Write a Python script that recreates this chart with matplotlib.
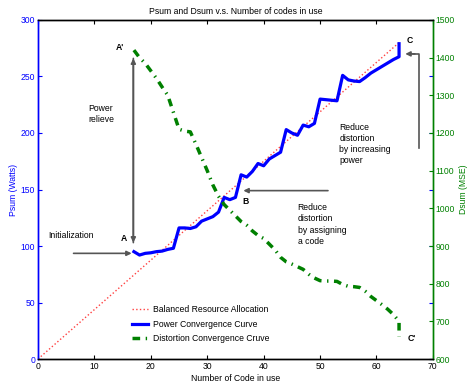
import matplotlib.pyplot as plt

plt.rcParams['font.family'] = ['Liberation Sans', 'DejaVu Sans']

# codes in use (x) and the two convergence traces
codes = list(range(17, 65)) + [64]
psum = [95, 92, 93.5, 94, 95, 95.5, 97, 98, 116, 116, 115.5, 117, 122, 124,
        126, 130, 143, 141, 143, 163, 161, 166, 173, 171, 177, 180, 183, 203,
        200, 198, 207, 205.5, 208.5, 230, 229.5, 229, 228.5, 251, 247, 246,
        245.5, 249, 253, 256, 259, 262, 265, 267.5, 279]
dsum = [1420, 1400, 1385, 1365, 1345, 1322, 1300, 1255, 1210, 1205, 1203,
        1170, 1135, 1100, 1062, 1032, 1010, 995, 980, 965, 955, 940, 928, 920,
        905, 890, 870, 858, 852, 845, 838, 825, 815, 808, 807, 807, 806, 798,
        793, 792, 790, 780, 766, 755, 744, 732, 718, 700, 660]

# balanced resource allocation reference line
bal_x = [0, 64]
bal_y = [0, 280]

green = '#008000'
fs = 6.2

fig = plt.figure(figsize=(4.68, 3.89), dpi=100)
ax = fig.add_axes([0.0812, 0.0771, 0.8438, 0.8715])
ax2 = ax.twinx()

l1, = ax.plot(bal_x, bal_y, ':', color='#ff4040', lw=1.0,
              label='Balanced Resource Allocation')
l2, = ax.plot(codes, psum, '-', color='blue', lw=2.3,
              label='Power Convergence Curve')
l3, = ax2.plot(codes, dsum, color=green, lw=2.5,
               linestyle=(0, (2.2, 1.6, 0.4, 1.6)),
               label='Distortion Convergence Cruve')

ax.set_xlim(0, 70)
ax.set_ylim(0, 300)
ax2.set_ylim(600, 1500)
ax.set_xticks(range(0, 71, 10))
ax.set_yticks(range(0, 301, 50))
ax2.set_yticks(range(600, 1501, 100))

ax.tick_params(axis='x', direction='in', length=3, labelsize=fs, top=True,
               pad=2)
ax.tick_params(axis='y', direction='in', length=3, labelsize=fs,
               colors='blue', right=True, pad=2)
ax2.tick_params(axis='y', direction='in', length=3, labelsize=fs,
                colors=green, pad=2)
ax2.tick_params(axis='x', top=False, bottom=False)

for a in (ax, ax2):
    a.spines['left'].set_color('blue')
    a.spines['right'].set_color(green)
    a.spines['top'].set_color('black')
    a.spines['bottom'].set_color('black')
    for s in a.spines.values():
        s.set_linewidth(1.0)

ax.set_title('Psum and Dsum v.s. Number of codes in use', fontsize=fs, pad=4)
ax.set_xlabel('Number of Code in use', fontsize=fs, labelpad=2)
ax.set_ylabel('Psum (Watts)', fontsize=fs, color='blue', labelpad=2)
ax2.set_ylabel('Dsum (MSE)', fontsize=fs, color=green, labelpad=3)

# annotations
arrow_kw = dict(arrowstyle='-|>', color='#555555', lw=1.2,
                mutation_scale=7, shrinkA=0, shrinkB=0)
ax.annotate('', xy=(16.9, 103), xytext=(16.9, 266), arrowprops=arrow_kw)
ax.annotate('', xy=(16.9, 266), xytext=(16.9, 103), arrowprops=arrow_kw)
ax.annotate('', xy=(16.6, 93.5), xytext=(6.3, 93.5), arrowprops=arrow_kw)
ax.annotate('', xy=(36.4, 149), xytext=(51.4, 149), arrowprops=arrow_kw)
ax.plot([67.6, 67.6, 66.5], [186.5, 270, 270], color='#555555', lw=1.2)
ax.annotate('', xy=(65.1, 270), xytext=(66.8, 270), arrowprops=arrow_kw)

ax.text(1.8, 109, 'Initialization', fontsize=fs, va='center')
ax.text(8.9, 217, 'Power\nrelieve', fontsize=fs, va='center',
        linespacing=1.3)
ax.text(46.0, 119, 'Reduce\ndistortion\nby assigning\na code', fontsize=fs,
        va='center', linespacing=1.3)
ax.text(53.4, 190, 'Reduce\ndistortion\nby increasing\npower', fontsize=fs,
        va='center', linespacing=1.3)
ax.text(15.3, 107, 'A', fontsize=fs, fontweight='bold', ha='center',
        va='center')
ax.text(14.5, 276, "A'", fontsize=fs, fontweight='bold', ha='center',
        va='center')
ax.text(36.7, 139, 'B', fontsize=fs, fontweight='bold', ha='center',
        va='center')
ax.text(65.9, 282, 'C', fontsize=fs, fontweight='bold', ha='center',
        va='center')
ax.text(66.2, 18.3, "C'", fontsize=fs, fontweight='bold', ha='center',
        va='center')

ax2.legend(handles=[l1, l2, l3], loc='upper left',
           bbox_to_anchor=(0.237, 0.159), frameon=False, fontsize=fs,
           handlelength=1.95, handletextpad=0.5, labelspacing=0.65,
           borderpad=0, borderaxespad=0)

fig.savefig('out.png', dpi=100)
